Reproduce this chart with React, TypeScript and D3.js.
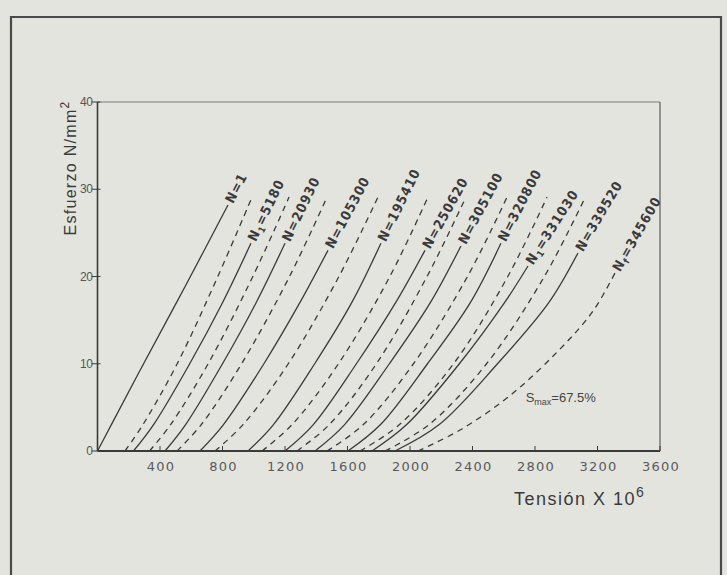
import React, { useEffect, useRef } from 'react';
import * as d3 from 'd3';

// axis ticks
const xTicks = [400, 800, 1200, 1600, 2000, 2400, 2800, 3200, 3600];
const yTicks = [0, 10, 20, 30, 40];

// loading curves (solid), [tension x1e6, stress N/mm2]
const curveN1 = [[0, 0], [88, 3], [295, 10], [565, 19], [835, 28.2]];
const curveN5180 = [[230, 0], [358, 3], [590, 10], [800, 17], [982, 23.8]];
const curveN20930 = [[432, 0], [563, 3], [800, 10], [1015, 17], [1200, 23.8]];
const curveN105300 = [[656, 0], [805, 3], [1065, 10], [1295, 17], [1475, 23]];
const curveN195410 = [[963, 0], [1125, 3], [1390, 10], [1627, 17], [1814, 23.8]];
const curveN250620 = [[1200, 0], [1380, 3], [1657, 10], [1908, 17], [2096, 23]];
const curveN305100 = [[1392, 0], [1580, 3], [1868, 10], [2130, 17], [2326, 23.5]];
const curveN320800 = [[1603, 0], [1810, 3], [2112, 10], [2386, 17], [2582, 23.8]];
const curveN331030 = [[1757, 0], [1977, 3], [2316, 10], [2605, 17], [2755, 21.2]];
const curveN339520 = [[1904, 0], [2185, 3], [2560, 10], [2888, 17], [3075, 22.7]];

// unloading curves (dashed)
const dashA = [[176, 0], [290, 3], [510, 10], [770, 20], [989, 29.1]];
const dashB = [[333, 0], [467, 3], [708, 10], [994, 20], [1226, 29.1]];
const dashC = [[509, 0], [663, 3], [922, 10], [1229, 20], [1469, 29.1]];
const dashD = [[752, 0], [930, 3], [1221, 10], [1545, 20], [1795, 29.1]];
const dashE = [[1053, 0], [1244, 3], [1542, 10], [1871, 20], [2115, 29.1]];
const dashF = [[1277, 0], [1482, 3], [1785, 10], [2109, 20], [2358, 29.1]];
const dashG = [[1469, 0], [1700, 3], [2022, 10], [2368, 20], [2621, 29.1]];
const dashH = [[1680, 0], [1931, 3], [2279, 10], [2626, 20], [2877, 29.1]];
const dashI = [[1840, 0], [2120, 3], [2490, 10], [2860, 20], [3114, 28.8]];
const dashNf = [[2051, 0], [2330, 2.5], [2650, 6.5], [2950, 11.5], [3170, 16], [3312, 20.4]];

const solidCurves = [curveN1, curveN5180, curveN20930, curveN105300, curveN195410,
  curveN250620, curveN305100, curveN320800, curveN331030, curveN339520];
const solidNames = [['N=1'], ['N', '1', '=5180'], ['N=20930'], ['N=105300'], ['N=195410'],
  ['N=250620'], ['N=305100'], ['N=320800'], ['N', '1', '=331030'], ['N=339520']];
const dashCurves = [dashA, dashB, dashC, dashD, dashE, dashF, dashG, dashH, dashI, dashNf];

const INK = '#3a3a3a';
const PAPER = '#e4e4df';

function Chart() {
  const ref = useRef(null);

  useEffect(() => {
    const svg = d3.select(ref.current);
    svg.selectAll('*').remove();

    const x = d3.scaleLinear().domain([0, 3600]).range([97.5, 660]);
    const y = d3.scaleLinear().domain([0, 40]).range([451, 102]);

    svg.append('rect').attr('width', 727).attr('height', 575).attr('fill', PAPER);

    // page frame of the scan
    svg.append('path')
      .attr('d', 'M11,575 L11,17 L721,17 L721,575')
      .attr('fill', 'none').attr('stroke', '#4a4a4a').attr('stroke-width', 2.2);

    const g = svg.append('g');

    // plot box
    g.append('line').attr('x1', x(0)).attr('x2', x(3600)).attr('y1', y(40)).attr('y2', y(40))
      .attr('stroke', '#7a7a7a').attr('stroke-width', 1.2);
    g.append('line').attr('x1', x(3600)).attr('x2', x(3600)).attr('y1', y(40)).attr('y2', y(0))
      .attr('stroke', '#666').attr('stroke-width', 1.3);
    g.append('line').attr('x1', x(0)).attr('x2', x(0)).attr('y1', y(40)).attr('y2', y(0))
      .attr('stroke', INK).attr('stroke-width', 1.6);
    g.append('line').attr('x1', x(0)).attr('x2', x(3600)).attr('y1', y(0)).attr('y2', y(0))
      .attr('stroke', INK).attr('stroke-width', 2);

    // y ticks
    g.selectAll('.yt').data(yTicks).enter().append('line')
      .attr('x1', x(0) - 6).attr('x2', x(0) + 3)
      .attr('y1', (d) => y(d)).attr('y2', (d) => y(d))
      .attr('stroke', INK).attr('stroke-width', 1);
    g.selectAll('.yl').data(yTicks).enter().append('text')
      .attr('x', x(0) - 5).attr('y', (d) => y(d) + 4)
      .attr('text-anchor', 'end')
      .attr('font-family', 'Liberation Sans, Arial, sans-serif').attr('font-size', 12)
      .attr('letter-spacing', -0.4)
      .attr('fill', '#555').text((d) => d);

    // x ticks
    g.selectAll('.xt').data(xTicks).enter().append('line')
      .attr('x1', (d) => x(d)).attr('x2', (d) => x(d))
      .attr('y1', y(0)).attr('y2', y(0) - 5)
      .attr('stroke', INK).attr('stroke-width', 1);
    g.selectAll('.xl').data(xTicks).enter().append('text')
      .attr('x', (d) => x(d) + 1).attr('y', y(0) + 20)
      .attr('text-anchor', 'middle')
      .attr('font-family', 'DejaVu Sans, sans-serif').attr('font-size', 13)
      .attr('letter-spacing', 1.2)
      .attr('fill', '#5a5a5a').text((d) => d);

    const line = d3.line().x((d) => x(d[0])).y((d) => y(d[1])).curve(d3.curveCatmullRom.alpha(0.5));

    g.selectAll('.solid').data(solidCurves).enter().append('path')
      .attr('d', (d) => line(d))
      .attr('fill', 'none').attr('stroke', INK).attr('stroke-width', 1.3);

    g.selectAll('.dash').data(dashCurves).enter().append('path')
      .attr('d', (d) => line(d))
      .attr('fill', 'none').attr('stroke', INK).attr('stroke-width', 1.3)
      .attr('stroke-dasharray', '6,5');

    // curve labels, continuing each curve past its top end
    const putLabel = (pts, parts) => {
      const p1 = pts[pts.length - 2];
      const p2 = pts[pts.length - 1];
      const ax = x(p1[0]), ay = y(p1[1]);
      const bx = x(p2[0]), by = y(p2[1]);
      const L = Math.hypot(bx - ax, by - ay);
      const ux = (bx - ax) / L, uy = (by - ay) / L;
      const px = bx + ux * 3 - uy * 4;
      const py = by + uy * 3 + ux * 4;
      const ang = (Math.atan2(uy, ux) * 180) / Math.PI;
      const t = g.append('text')
        .attr('transform', `translate(${px},${py}) rotate(${ang})`)
        .attr('font-family', 'DejaVu Sans Condensed, DejaVu Sans, sans-serif')
        .attr('font-size', 13.5).attr('font-weight', 'bold')
        .attr('letter-spacing', 1)
        .attr('fill', '#3a3a3a');
      t.append('tspan').text(parts[0]);
      if (parts[1]) {
        t.append('tspan').attr('font-size', 9).attr('dy', 3).text(parts[1]);
        t.append('tspan').attr('dy', -3).text(parts[2]);
      }
    };
    solidCurves.forEach((c, i) => putLabel(c, solidNames[i]));
    putLabel(dashNf, ['N', 'f', '=345600']);

    // S max annotation
    const sm = g.append('text').attr('x', x(2740)).attr('y', y(5.6))
      .attr('font-family', 'Liberation Sans, Arial, sans-serif').attr('font-size', 13)
      .attr('fill', '#444');
    sm.append('tspan').text('S');
    sm.append('tspan').attr('font-size', 9).attr('dy', 3).text('max');
    sm.append('tspan').attr('dy', -3).text('=67.5%');

    // axis titles
    const yt = g.append('text')
      .attr('transform', 'translate(76,168) rotate(-90)')
      .attr('text-anchor', 'middle')
      .attr('font-family', 'Liberation Sans, Arial, sans-serif').attr('font-size', 16)
      .attr('letter-spacing', 1.3)
      .attr('fill', '#3a3a3a');
    yt.append('tspan').text('Esfuerzo N/mm');
    yt.append('tspan').attr('font-size', 12).attr('dy', -7).text('2');

    const xt = g.append('text')
      .attr('x', 514).attr('y', 505)
      .attr('font-family', 'Liberation Sans, Arial, sans-serif').attr('font-size', 18)
      .attr('letter-spacing', 1.5)
      .attr('fill', '#3a3a3a');
    xt.append('tspan').text('Tensión X 10');
    xt.append('tspan').attr('font-size', 14).attr('dy', -8).text('6');
  }, []);

  return <svg ref={ref} width={727} height={575} style={{ display: 'block' }} />;
}

export default function App() {
  return (
    <div style={{ position: 'fixed', left: 0, top: 0, width: 727, height: 575, overflow: 'hidden' }}>
      <Chart />
    </div>
  );
}
